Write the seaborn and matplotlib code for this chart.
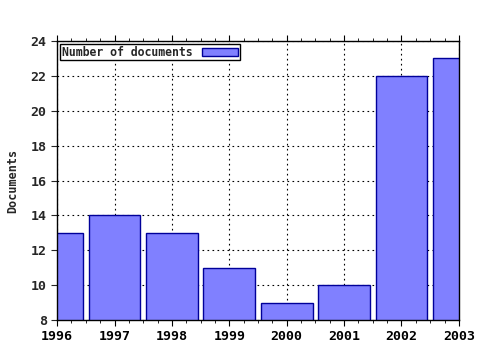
import matplotlib
matplotlib.use("Agg")
import matplotlib.pyplot as plt
import seaborn as sns
import pandas as pd
from matplotlib.ticker import MultipleLocator, FormatStrFormatter

years = [1996, 1997, 1998, 1999, 2000, 2001, 2002, 2003]
documents = [13, 14, 13, 11, 9, 10, 22, 23]
series_label = "Number of documents"

sns.set_style("white")
plt.rcParams['font.family'] = ['DejaVu Sans Mono']
plt.rcParams['font.weight'] = 'bold'

df = pd.DataFrame({"year": years, "docs": documents})

fig = plt.figure(figsize=(4.8, 3.5), dpi=100)
ax = fig.add_axes([0.119, 0.0857, 0.837, 0.797])

sns.barplot(data=df, x="year", y="docs", native_scale=True, width=0.9,
            color="#8080ff", saturation=1, edgecolor="#000099", linewidth=1.0,
            label=series_label, ax=ax, zorder=2)

ax.set_xlim(1996, 2003)
ax.set_ylim(8, 24)
ax.xaxis.set_major_locator(MultipleLocator(1))
ax.xaxis.set_minor_locator(MultipleLocator(0.25))
ax.yaxis.set_major_locator(MultipleLocator(2))
ax.xaxis.set_major_formatter(FormatStrFormatter('%d'))
ax.grid(True, which='major', color='black', linestyle=(0, (1.5, 3)), linewidth=0.8, zorder=0)
ax.set_axisbelow(True)

for s in ax.spines.values():
    s.set_color('black')
    s.set_linewidth(1.0)

ax.tick_params(axis='x', which='both', bottom=True, top=True, direction='out', colors='black',
               labelsize=9.5)
ax.tick_params(axis='x', which='major', length=4)
ax.tick_params(axis='x', which='minor', length=2)
ax.tick_params(axis='y', which='major', left=True, right=False, direction='out', length=4,
               labelsize=9.5)
ax.set_xlabel("")
ax.set_ylabel("Documents", fontsize=8.5, fontweight='bold', labelpad=8)

leg = ax.legend(loc='upper left', markerfirst=False, frameon=True, fancybox=False,
                fontsize=8.3, handlelength=3.2, handleheight=0.7, borderpad=0.15,
                borderaxespad=0.25, handletextpad=0.8, edgecolor='black', framealpha=1)
leg.get_frame().set_linewidth(1.0)

fig.savefig("out.png", dpi=100)
